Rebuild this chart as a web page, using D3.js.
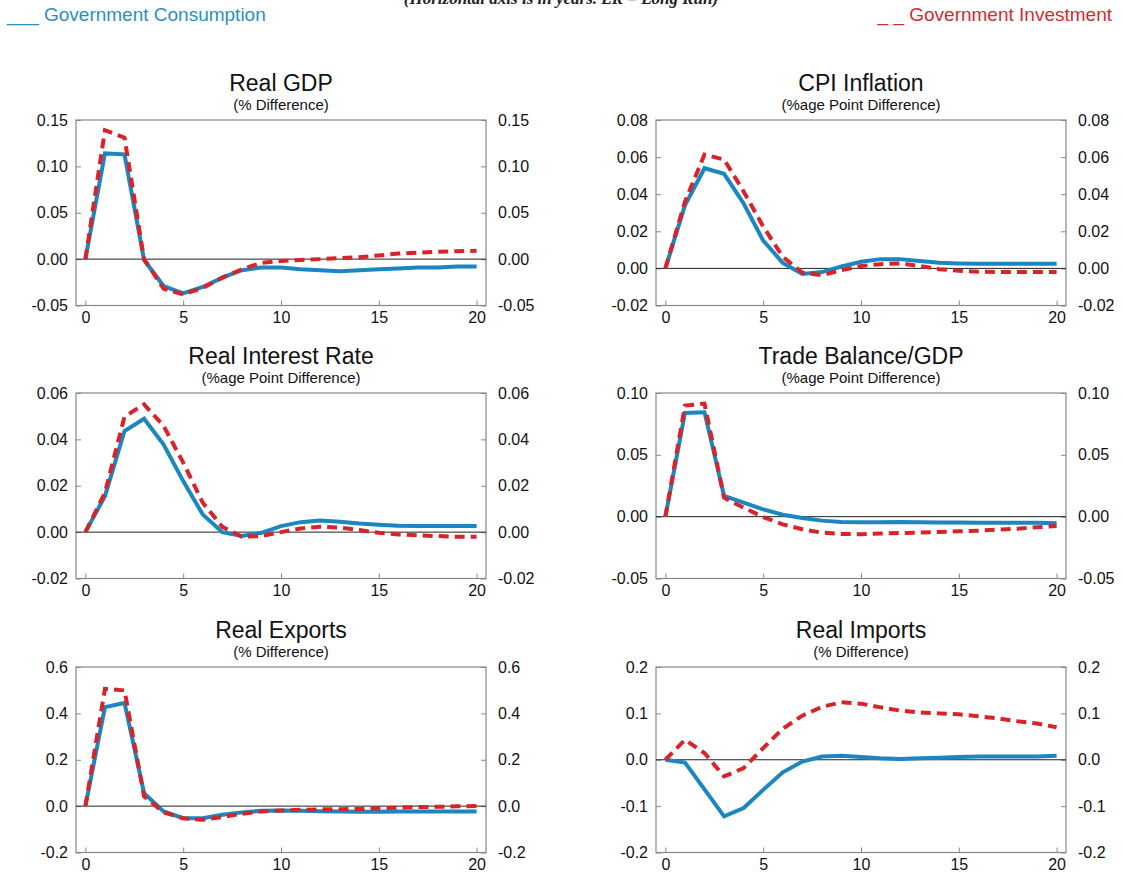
<!DOCTYPE html>
<html>
<head>
<meta charset="utf-8">
<script src="https://cdn.jsdelivr.net/npm/d3@7"></script>
<style>
  body { margin: 0; background: #fff; }
  svg { display: block; font-family: "Liberation Sans", Arial, sans-serif; }
</style>
</head>
<body>
<div id="chart"></div>
<script>
// horizon (years)
const years = [0, 1, 2, 3, 4, 5, 6, 7, 8, 9, 10, 11, 12, 13, 14, 15, 16, 17, 18, 19, 20];
const xTicks = [0, 5, 10, 15, 20];

// Real GDP
const gdpCons = [0, 0.114, 0.113, -0.001, -0.029, -0.037, -0.030, -0.020, -0.012, -0.009, -0.009, -0.011, -0.012, -0.013, -0.012, -0.011, -0.010, -0.009, -0.009, -0.008, -0.008];
const gdpInv  = [0, 0.139, 0.131, 0.000, -0.032, -0.038, -0.031, -0.020, -0.011, -0.004, -0.002, -0.001, 0.000, 0.001, 0.002, 0.004, 0.006, 0.007, 0.008, 0.0086, 0.009];
const gdpTicks = [-0.05, 0, 0.05, 0.10, 0.15];

// CPI inflation
const cpiCons = [0, 0.034, 0.054, 0.051, 0.035, 0.015, 0.003, -0.003, -0.002, 0.001, 0.0036, 0.005, 0.005, 0.004, 0.003, 0.0027, 0.0025, 0.0025, 0.0025, 0.0025, 0.0025];
const cpiInv  = [0, 0.036, 0.0614, 0.0587, 0.0415, 0.0226, 0.0063, -0.0023, -0.0036, -0.001, 0.0013, 0.0023, 0.0027, 0.0013, -0.0004, -0.0013, -0.0018, -0.002, -0.002, -0.002, -0.002];
const cpiTicks = [-0.02, 0, 0.02, 0.04, 0.06, 0.08];

// Real interest rate
const rateCons = [0, 0.0155, 0.0436, 0.0489, 0.0378, 0.022, 0.0076, 0.0, -0.0017, -0.0003, 0.0026, 0.0043, 0.005, 0.0045, 0.0037, 0.0032, 0.0027, 0.0026, 0.0026, 0.0026, 0.0026];
const rateInv  = [0, 0.017, 0.0498, 0.0551, 0.0458, 0.030, 0.0127, 0.0023, -0.002, -0.0017, 0.0, 0.0016, 0.0023, 0.002, 0.0009, -0.0003, -0.001, -0.0014, -0.0017, -0.002, -0.002];
const rateTicks = [-0.02, 0, 0.02, 0.04, 0.06];

// Trade balance / GDP
const tradeCons = [0, 0.0839, 0.0844, 0.0167, 0.0113, 0.0059, 0.0016, -0.001, -0.0032, -0.0043, -0.0046, -0.0046, -0.0043, -0.0046, -0.0048, -0.0048, -0.005, -0.005, -0.005, -0.005, -0.0054];
const tradeInv  = [0, 0.0898, 0.0914, 0.0153, 0.0073, -0.0003, -0.0062, -0.0102, -0.0129, -0.014, -0.0142, -0.0137, -0.0132, -0.0129, -0.0124, -0.0118, -0.0113, -0.0105, -0.0097, -0.0086, -0.0075];
const tradeTicks = [-0.05, 0, 0.05, 0.10];

// Real exports
const expCons = [0, 0.427, 0.445, 0.056, -0.023, -0.052, -0.052, -0.037, -0.027, -0.020, -0.019, -0.020, -0.022, -0.023, -0.024, -0.024, -0.023, -0.023, -0.023, -0.023, -0.023];
const expInv  = [0, 0.506, 0.499, 0.042, -0.027, -0.052, -0.059, -0.047, -0.033, -0.023, -0.019, -0.016, -0.014, -0.013, -0.012, -0.009, -0.007, -0.004, -0.003, -0.001, 0.001];
const expTicks = [-0.2, 0, 0.2, 0.4, 0.6];

// Real imports
const impCons = [0, -0.006, -0.064, -0.122, -0.104, -0.065, -0.027, -0.004, 0.007, 0.0086, 0.006, 0.003, 0.0014, 0.003, 0.0043, 0.006, 0.007, 0.007, 0.007, 0.007, 0.0086];
const impInv  = [0, 0.043, 0.0144, -0.036, -0.018, 0.025, 0.067, 0.095, 0.114, 0.124, 0.121, 0.113, 0.106, 0.102, 0.100, 0.098, 0.094, 0.089, 0.083, 0.078, 0.070];
const impTicks = [-0.2, -0.1, 0, 0.1, 0.2];

const panels = [
  { title: "Real GDP", sub: "(% Difference)", cons: gdpCons, inv: gdpInv, ticks: gdpTicks, fmt: ".2f" },
  { title: "CPI Inflation", sub: "(%age Point Difference)", cons: cpiCons, inv: cpiInv, ticks: cpiTicks, fmt: ".2f" },
  { title: "Real Interest Rate", sub: "(%age Point Difference)", cons: rateCons, inv: rateInv, ticks: rateTicks, fmt: ".2f" },
  { title: "Trade Balance/GDP", sub: "(%age Point Difference)", cons: tradeCons, inv: tradeInv, ticks: tradeTicks, fmt: ".2f" },
  { title: "Real Exports", sub: "(% Difference)", cons: expCons, inv: expInv, ticks: expTicks, fmt: ".1f" },
  { title: "Real Imports", sub: "(% Difference)", cons: impCons, inv: impInv, ticks: impTicks, fmt: ".1f" }
];

const blue = "#1b86c0",
      red = "#d8232a";

const width = 1123,
      height = 876;

const svg = d3.select("#chart")
    .append("svg")
    .attr("width", width)
    .attr("height", height);

// header (top line is cut by the page edge, as in the source)
svg.append("text")
    .attr("x", 561)
    .attr("y", 4)
    .attr("text-anchor", "middle")
    .style("font-family", "'Liberation Serif', serif")
    .style("font-weight", "bold")
    .style("font-style", "italic")
    .style("font-size", "17px")
    .style("fill", "#222")
    .text("(Horizontal axis is in years. LR = Long Run)");

svg.append("text")
    .attr("x", 7)
    .attr("y", 21)
    .style("font-size", "19px")
    .style("fill", "#2a8fc4")
    .text("___ Government Consumption");

svg.append("text")
    .attr("x", 1112)
    .attr("y", 21)
    .attr("text-anchor", "end")
    .style("font-size", "19px")
    .style("fill", "#d42a30")
    .text("_ _ Government Investment");

const colX = [76, 656],
      rowY = [120, 393, 667],
      boxW = 410,
      boxH = 185.5;

panels.forEach((p, i) => {
    const left = colX[i % 2],
          top = rowY[Math.floor(i / 2)];

    const g = svg.append("g")
        .attr("transform", `translate(${left},${top})`);

    const x = d3.scaleLinear()
        .domain([-0.48, 20.48])
        .range([0, boxW]);

    const y = d3.scaleLinear()
        .domain(d3.extent(p.ticks))
        .range([boxH, 0]);

    const fmt = d => d3.format(p.fmt)(d).replace("−", "-");

    // title
    g.append("text")
        .attr("x", boxW / 2)
        .attr("y", -29)
        .attr("text-anchor", "middle")
        .style("font-size", "23px")
        .style("fill", "#111")
        .text(p.title);

    g.append("text")
        .attr("x", boxW / 2)
        .attr("y", -10)
        .attr("text-anchor", "middle")
        .style("font-size", "15px")
        .style("fill", "#111")
        .text(p.sub);

    // axes
    const yl = g.append("g")
        .call(d3.axisLeft(y).tickValues(p.ticks).tickFormat(fmt).tickSize(-5).tickPadding(8));
    const yr = g.append("g")
        .attr("transform", `translate(${boxW},0)`)
        .call(d3.axisRight(y).tickValues(p.ticks).tickFormat(fmt).tickSize(-5).tickPadding(12));
    const xb = g.append("g")
        .attr("transform", `translate(0,${boxH})`)
        .call(d3.axisBottom(x).tickValues(xTicks).tickFormat(d3.format("d")).tickSize(-5).tickPadding(6));

    [yl, yr, xb].forEach(a => {
        a.select(".domain").remove();
        a.selectAll("line").attr("stroke", "#888");
        a.selectAll("text")
            .style("font-size", "16px")
            .style("fill", "#111");
    });

    g.append("rect")
        .attr("width", boxW)
        .attr("height", boxH)
        .attr("fill", "none")
        .attr("stroke", "#888")
        .attr("stroke-width", 1.2);

    // zero line
    g.append("line")
        .attr("x1", 0)
        .attr("x2", boxW)
        .attr("y1", y(0))
        .attr("y2", y(0))
        .attr("stroke", "#222")
        .attr("stroke-width", 1);

    const line = d3.line()
        .x((d, j) => x(years[j]))
        .y(d => y(d));

    g.append("path")
        .datum(p.cons)
        .attr("d", line)
        .attr("fill", "none")
        .attr("stroke", blue)
        .attr("stroke-width", 4);

    g.append("path")
        .datum(p.inv)
        .attr("d", line)
        .attr("fill", "none")
        .attr("stroke", red)
        .attr("stroke-width", 4)
        .attr("stroke-dasharray", "10,6");
});
</script>
</body>
</html>
